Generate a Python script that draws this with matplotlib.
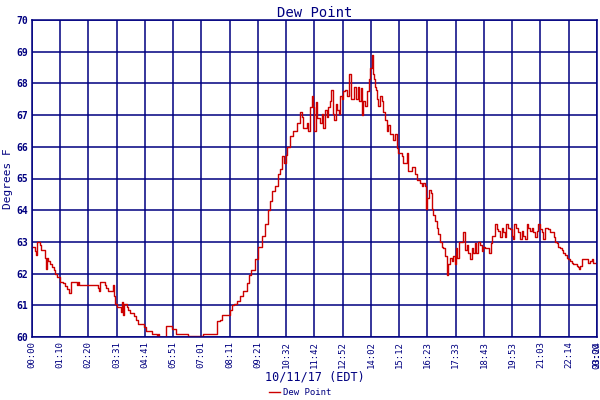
import matplotlib
matplotlib.use("Agg")
import matplotlib.pyplot as plt

# minutes after midnight, dew point in degrees F
minutes = [
    0, 8, 10, 13, 20, 23, 33, 35, 37, 40, 45, 50, 55, 58, 63, 70, 78, 83, 88, 92,
    97, 112, 114, 117, 165, 167, 170, 182, 185, 189, 202, 204, 207, 212, 222, 224, 226, 229, 237, 239,
    244, 254, 259, 264, 279, 284, 299, 311, 314, 316, 334, 348, 358, 388, 426, 460, 468, 473, 493, 498,
    503, 510, 518, 525, 535, 540, 545, 555, 563, 572, 580, 587, 592, 597, 605, 612, 617, 622, 627, 632,
    635, 642, 650, 659, 667, 672, 674, 684, 687, 692, 697, 699, 702, 707, 709, 717, 722, 724, 729, 734,
    736, 741, 744, 749, 751, 756, 759, 764, 766, 771, 774, 779, 784, 789, 793, 798, 801, 806, 811, 813,
    818, 821, 823, 828, 833, 838, 841, 846, 848, 851, 853, 856, 858, 861, 866, 871, 873, 878, 883, 886,
    891, 898, 903, 908, 911, 921, 923, 933, 935, 945, 953, 958, 965, 970, 973, 978, 980, 983, 988, 992,
    995, 998, 1002, 1007, 1010, 1015, 1020, 1022, 1027, 1032, 1035, 1040, 1045, 1047, 1052, 1055, 1057, 1062, 1070, 1072,
    1077, 1082, 1084, 1089, 1094, 1097, 1102, 1104, 1109, 1114, 1119, 1122, 1127, 1134, 1137, 1142, 1144, 1147, 1152, 1157,
    1159, 1164, 1169, 1171, 1176, 1179, 1184, 1189, 1194, 1196, 1199, 1204, 1209, 1214, 1219, 1221, 1226, 1231, 1234, 1239,
    1244, 1246, 1251, 1256, 1258, 1263, 1268, 1271, 1276, 1283, 1288, 1298, 1301, 1306, 1308, 1313, 1318, 1320, 1325, 1330,
    1333, 1338, 1343, 1345, 1355, 1357, 1360, 1363, 1368, 1380, 1383, 1387, 1392, 1395, 1405,
]
dew_point = [
    62.85, 62.7, 62.6, 63.0, 62.9, 62.75, 62.5, 62.15, 62.5, 62.4, 62.3, 62.2, 62.1, 62.0, 61.9, 61.75, 61.7, 61.6, 61.5, 61.4,
    61.75, 61.65, 61.75, 61.65, 61.55, 61.45, 61.75, 61.65, 61.55, 61.45, 61.65, 61.3, 61.05, 60.95, 60.8, 61.1, 60.7, 61.05, 60.95, 60.85,
    60.75, 60.65, 60.55, 60.4, 60.3, 60.2, 60.1, 60.0, 60.1, 60.0, 60.35, 60.25, 60.1, 60.02, 60.1, 60.5, 60.55, 60.7, 60.85, 61.0,
    61.05, 61.15, 61.3, 61.45, 61.7, 61.95, 62.1, 62.45, 62.85, 63.2, 63.55, 64.0, 64.3, 64.6, 64.75, 65.15, 65.3, 65.7, 65.5, 65.75,
    66.0, 66.35, 66.5, 66.75, 67.1, 66.95, 66.6, 66.75, 66.5, 67.25, 67.6, 67.25, 66.5, 67.4, 66.9, 66.75, 67.05, 66.6, 67.15, 66.95,
    67.25, 67.45, 67.8, 67.05, 66.85, 67.35, 67.15, 67.05, 67.6, 67.5, 67.75, 67.8, 67.6, 68.3, 67.5, 67.5, 67.9, 67.5, 67.9, 67.45,
    67.85, 67.0, 67.45, 67.3, 67.75, 68.15, 68.5, 68.9, 68.3, 68.15, 67.9, 67.8, 67.5, 67.3, 67.6, 67.45, 67.1, 66.85, 66.5, 66.7,
    66.4, 66.2, 66.4, 65.95, 65.8, 65.7, 65.5, 65.8, 65.25, 65.35, 65.15, 64.95, 64.85, 64.75, 64.85, 64.75, 64.05, 64.4, 64.65, 64.55,
    64.05, 63.85, 63.65, 63.45, 63.25, 63.0, 62.85, 62.8, 62.55, 61.95, 62.3, 62.5, 62.4, 62.55, 62.3, 62.8, 62.5, 63.0, 63.0, 63.3,
    62.75, 62.9, 62.65, 62.45, 62.8, 62.65, 62.95, 62.65, 63.0, 62.9, 62.7, 62.85, 62.8, 62.8, 62.65, 62.95, 63.2, 63.2, 63.55, 63.4,
    63.35, 63.15, 63.45, 63.3, 63.15, 63.55, 63.45, 63.4, 63.2, 63.1, 63.55, 63.45, 63.3, 63.1, 63.35, 63.2, 63.1, 63.55, 63.45, 63.35,
    63.45, 63.3, 63.15, 63.35, 63.55, 63.4, 63.3, 63.1, 63.45, 63.4, 63.3, 63.15, 63.0, 62.95, 62.85, 62.8, 62.75, 62.65, 62.6, 62.5,
    62.45, 62.4, 62.35, 62.3, 62.25, 62.2, 62.15, 62.25, 62.45, 62.45, 62.35, 62.4, 62.45, 62.35, 62.35,
]

tick_labels = ["00:00", "01:10", "02:20", "03:31", "04:41", "05:51", "07:01", "08:11",
               "09:21", "10:32", "11:42", "12:52", "14:02", "15:12", "16:23", "17:33",
               "18:43", "19:53", "21:03", "22:14", "23:24"]
tick_step = 70.25
y_ticks = list(range(60, 71))

navy = "#000080"
mono = "DejaVu Sans Mono"

fig = plt.figure(figsize=(6, 4), dpi=100)
ax = fig.add_axes([0.053, 0.1575, 0.942, 0.7925])

ax.plot(minutes, dew_point, drawstyle="steps-post", color="#cc0000",
        linewidth=1.0, label="Dew Point")

ax.set_xlim(0, tick_step * (len(tick_labels) - 1))
ax.set_ylim(60, 70)

ax.set_xticks([i * tick_step for i in range(len(tick_labels))])
ax.set_xticklabels(tick_labels, rotation=90, fontsize=6.5, family=mono, color=navy)
# the original draws a second label on top of the last one
ax.text(1.0, -0.015, "00:00", transform=ax.transAxes, rotation=90, fontsize=6.5,
        family=mono, color=navy, ha="center", va="top")
ax.set_yticks(y_ticks)
ax.set_yticklabels([str(v) for v in y_ticks], fontsize=7, family=mono,
                   color=navy, fontweight="bold")
ax.tick_params(length=0, pad=3)

ax.grid(True, color=navy, linewidth=1.1)
ax.set_axisbelow(True)
for s in ax.spines.values():
    s.set_color(navy)
    s.set_linewidth(1.1)

ax.set_title("Dew Point", fontsize=10, family=mono, color=navy, pad=2)
ax.set_xlabel("10/11/17 (EDT)", fontsize=8.5, family=mono, color=navy, labelpad=2)
ax.set_ylabel("Degrees F", fontsize=8, family=mono, color=navy, labelpad=2)

fig.legend(loc="lower center", bbox_to_anchor=(0.5, -0.012), frameon=False,
           prop={"family": mono, "size": 6.5}, handlelength=1.2,
           handletextpad=0.3, labelcolor=navy)

fig.savefig("out.png", dpi=100)
